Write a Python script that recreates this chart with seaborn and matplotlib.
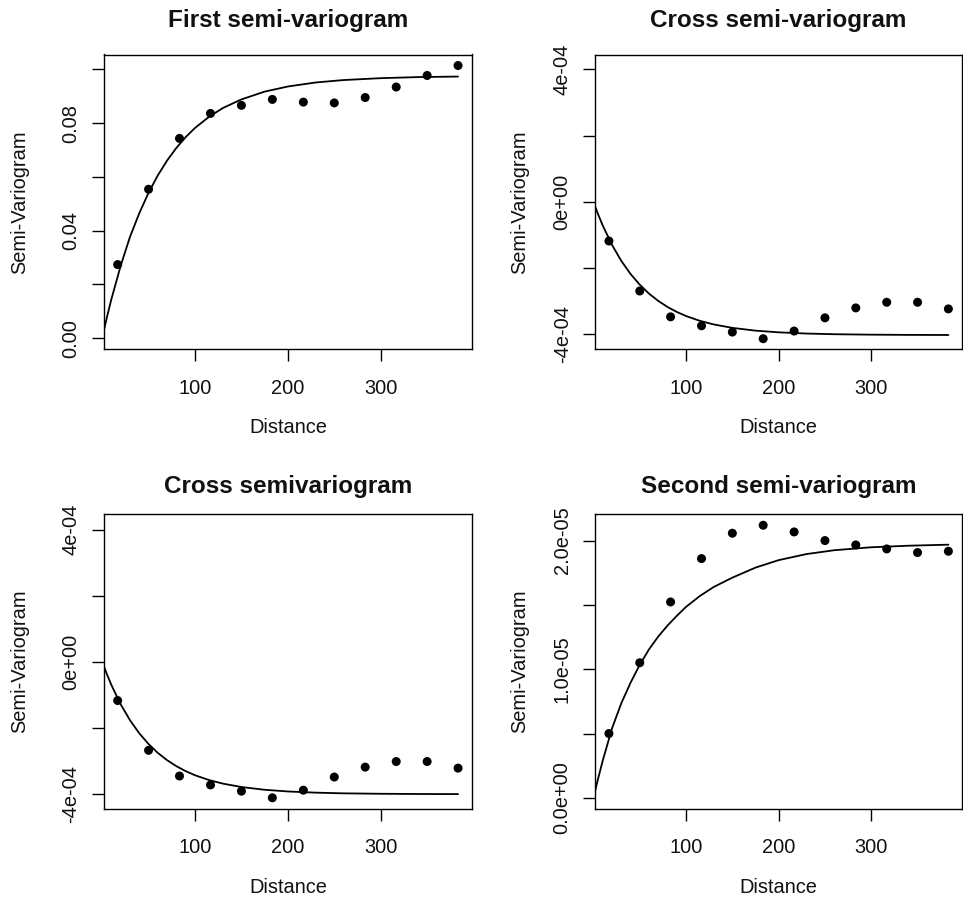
import matplotlib
matplotlib.use("Agg")
import matplotlib.pyplot as plt
import seaborn as sns

# ---- data ----
lag_distance = [16.7, 50.0, 83.3, 116.7, 150.0, 183.3, 216.7, 250.0, 283.3, 316.7, 350.0, 383.3]
first_gamma = [0.0274, 0.0554, 0.0743, 0.0836, 0.0866, 0.0888, 0.0878, 0.0875, 0.0895, 0.0934, 0.0977, 0.1014]
cross_gamma = [-1.18e-4, -2.69e-4, -3.47e-4, -3.74e-4, -3.93e-4, -4.13e-4,
               -3.90e-4, -3.50e-4, -3.20e-4, -3.03e-4, -3.03e-4, -3.23e-4]
second_gamma = [0.501e-5, 1.051e-5, 1.523e-5, 1.860e-5, 2.057e-5, 2.119e-5,
                2.067e-5, 2.000e-5, 1.966e-5, 1.935e-5, 1.907e-5, 1.917e-5]

model_distance = [0, 5, 10, 20, 30, 40, 50, 60, 70, 80, 90, 100, 115, 130, 150, 175,
                  200, 230, 260, 300, 340, 383.3]
first_model = [0.0000, 0.0076, 0.0146, 0.0270, 0.0377, 0.0465, 0.0541, 0.0606, 0.0661,
               0.0708, 0.0748, 0.0782, 0.0823, 0.0856, 0.0888, 0.0917, 0.0936, 0.0951,
               0.0960, 0.0967, 0.0971, 0.0973]
cross_model = [0.0, -0.373e-4, -0.711e-4, -1.296e-4, -1.777e-4, -2.174e-4, -2.500e-4,
               -2.769e-4, -2.990e-4, -3.172e-4, -3.322e-4, -3.446e-4, -3.591e-4,
               -3.700e-4, -3.803e-4, -3.887e-4, -3.938e-4, -3.974e-4, -3.995e-4,
               -4.008e-4, -4.015e-4, -4.018e-4]
second_model = [0.0, 0.15e-5, 0.29e-5, 0.54e-5, 0.735e-5, 0.895e-5, 1.035e-5, 1.155e-5,
                1.255e-5, 1.340e-5, 1.415e-5, 1.485e-5, 1.570e-5, 1.640e-5, 1.712e-5,
                1.790e-5, 1.848e-5, 1.895e-5, 1.925e-5, 1.948e-5, 1.960e-5, 1.968e-5]

x_ticks = [100, 200, 300]
x_tick_labels = ["100", "200", "300"]

first_yticks = [0.0, 0.02, 0.04, 0.06, 0.08, 0.10]
first_yticklabels = ["0.00", "", "0.04", "", "0.08", ""]
cross_yticks = [-4e-4, -2e-4, 0.0, 2e-4, 4e-4]
cross_yticklabels = ["-4e-04", "", "0e+00", "", "4e-04"]
second_yticks = [0.0, 0.5e-5, 1.0e-5, 1.5e-5, 2.0e-5]
second_yticklabels = ["0.0e+00", "", "1.0e-05", "", "2.0e-05"]

titles = ["First semi-variogram", "Cross semi-variogram",
          "Cross semivariogram", "Second semi-variogram"]

# ---- style ----
sns.set_theme(style="ticks")
plt.rcParams["font.family"] = ["Liberation Sans", "DejaVu Sans"]
plt.rcParams["axes.grid"] = False

W, H = 963, 899
fig = plt.figure(figsize=(W / 100, H / 100), dpi=100)


def px_axes(left, top, right, bottom):
    return fig.add_axes([left / W, 1 - bottom / H, (right - left) / W, (bottom - top) / H])


axes = [
    px_axes(104.0, 54.5, 471.7, 349.3),
    px_axes(595.3, 54.5, 962.0, 349.3),
    px_axes(104.0, 514.3, 471.7, 809.0),
    px_axes(595.3, 514.3, 962.0, 809.0),
]

specs = [
    (first_gamma, first_model, (-0.0041, 0.1055), first_yticks, first_yticklabels, -0.2556, 19.5),
    (cross_gamma, cross_model, (-4.45e-4, 4.45e-4), cross_yticks, cross_yticklabels, -0.2326, 19.5),
    (cross_gamma, cross_model, (-4.47e-4, 4.47e-4), cross_yticks, cross_yticklabels, -0.2556, 15.6),
    (second_gamma, second_model, (-0.085e-5, 2.204e-5), second_yticks, second_yticklabels, -0.2326, 15.6),
]

for ax, title, (gamma, model, ylim, yt, ytl, ylab_x, tpad) in zip(axes, titles, specs):
    sns.lineplot(x=model_distance, y=model, ax=ax, color="black", linewidth=1.3,
                 sort=False, estimator=None)
    sns.scatterplot(x=lag_distance, y=gamma, ax=ax, color="black", s=42,
                    edgecolor="none", linewidth=0, zorder=3)
    ax.set_xlim(2.0, 398.0)
    ax.set_ylim(*ylim)
    ax.set_xticks(x_ticks)
    ax.set_xticklabels(x_tick_labels)
    ax.set_yticks(yt)
    ax.set_yticklabels(ytl, rotation=90, va="center")
    ax.tick_params(axis="both", direction="out", length=8.6, width=1.0, color="black",
                   labelsize=14.4, labelcolor="#111111")
    ax.tick_params(axis="x", pad=12.5)
    ax.tick_params(axis="y", pad=8.4)
    for sp in ax.spines.values():
        sp.set_visible(True)
        sp.set_linewidth(1.0)
        sp.set_color("black")
    ax.set_title(title, fontsize=17.5, fontweight="bold", pad=tpad, color="#111111")
    ax.set_xlabel("Distance", fontsize=14.4, color="#111111")
    ax.xaxis.set_label_coords(0.5, -0.2347)
    ax.set_ylabel("Semi-Variogram", fontsize=14.4, va="top", color="#111111")
    ax.yaxis.set_label_coords(ylab_x, 0.5)

fig.savefig("out.png", dpi=100)
